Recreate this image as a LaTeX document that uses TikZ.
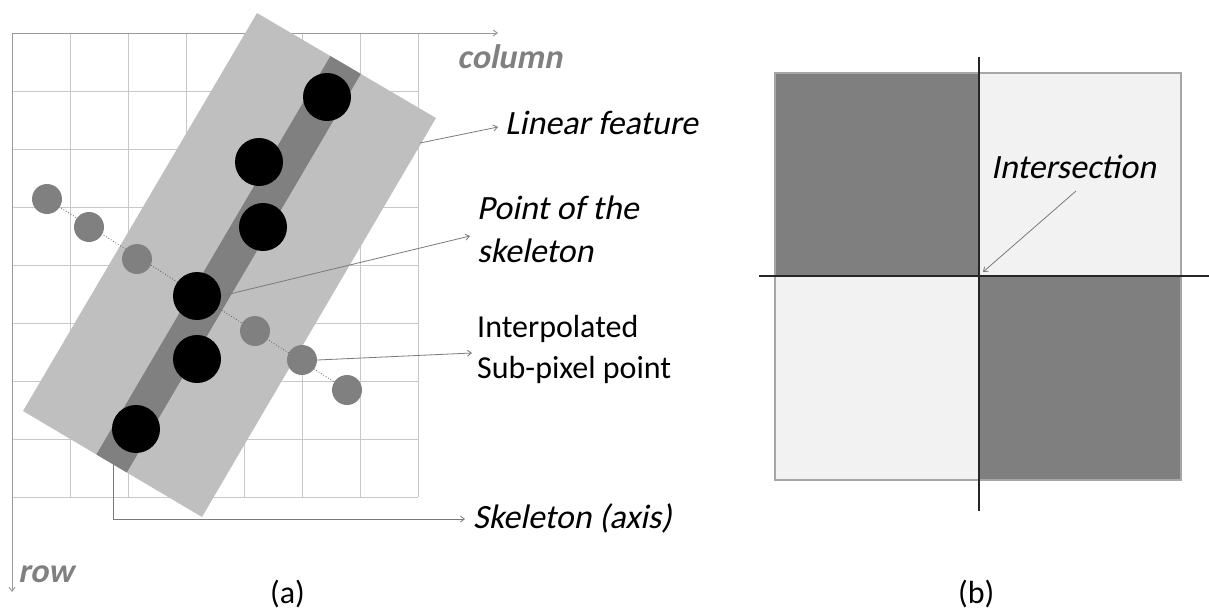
\documentclass[tikz,border=0pt]{standalone}
\usepackage{fontspec}
\setmainfont{Carlito}
\newfontfamily\slantfont{Carlito}[FakeSlant=0.2]
\usetikzlibrary{arrows.meta,calc}
\definecolor{gridc}{HTML}{C8C8C8}
\definecolor{axisc}{HTML}{9A9A9A}
\definecolor{featc}{HTML}{BFBFBF}
\definecolor{skelc}{HTML}{808080}
\definecolor{dotc}{HTML}{808080}
\definecolor{leadc}{HTML}{7A7A7A}
\definecolor{darkq}{HTML}{7F7F7F}
\definecolor{lightq}{HTML}{F2F2F2}
\definecolor{borderq}{HTML}{A6A6A6}
\definecolor{crossc}{HTML}{262626}
\tikzset{
  lbl/.style={inner sep=0pt, font=\fontsize{32}{41}\selectfont, align=left, anchor=base west},
  slbl/.style={lbl, font=\fontsize{34}{43}\selectfont\slantfont},
  axislbl/.style={inner sep=0pt, font=\fontsize{34}{42}\selectfont\slantfont\bfseries, text=skelc, anchor=base west},
  blackdot/.style={circle, fill=black, draw=none, minimum size=48pt, inner sep=0pt},
  greydot/.style={circle, fill=dotc, draw=none, minimum size=30pt, inner sep=0pt},
  leader/.style={draw=leadc, line width=0.8pt, -{Straight Barb[length=4pt,width=6pt]}},
  axisline/.style={draw=axisc, line width=1pt, -{Straight Barb[length=4pt,width=6pt]}},
}
\begin{document}
\begin{tikzpicture}[x=1pt,y=-1pt]
\useasboundingbox (0,0) rectangle (1209,611);
% ---------- panel (a) ----------
\foreach \i in {1,...,7} \draw[gridc, line width=1pt] (12+58*\i,33) -- (12+58*\i,497);
\foreach \j in {1,...,8} \draw[gridc, line width=1pt] (12,33+58*\j) -- (418,33+58*\j);
\coordinate (origin) at (12,33);
\coordinate (colend) at (498,33);
\coordinate (rowend) at (12,592);
\draw[axisline] (origin) -- (colend);
\draw[axisline] (origin) -- (rowend);
\node[axislbl] (column) at (457,68) {column};
\node[axislbl] (row) at (18,582) {row};
\coordinate (rt) at (257,13);
\coordinate (rr) at (436,118);
\coordinate (rb) at (202,517);
\coordinate (rl) at (23,411);
\fill[featc] (rt) -- (rr) -- (rb) -- (rl) -- cycle;
\fill[skelc] ($(rt)!0.41!(rr)$) -- ($(rt)!0.58!(rr)$) -- ($(rl)!0.58!(rb)$) -- ($(rl)!0.41!(rb)$) -- cycle;
\coordinate (d0) at (47,199);
\coordinate (d6) at (347,390);
\draw[dotc!70!black, line width=0.8pt, dotted] (d0) -- (d6);
\node[greydot] (g1) at (47,199) {};
\node[greydot] (g2) at (89,227) {};
\node[greydot] (g3) at (137,259) {};
\node[greydot] (g4) at (255,331) {};
\node[greydot] (g5) at (302,360) {};
\node[greydot] (g6) at (347,390) {};
\node[blackdot] (b1) at (327,97) {};
\node[blackdot] (b2) at (259,162) {};
\node[blackdot] (b3) at (263,227) {};
\node[blackdot] (b4) at (197,296) {};
\node[blackdot] (b5) at (197,359) {};
\node[blackdot] (b6) at (136,429) {};
\node[slbl] (linear) at (505,134) {Linear feature};
\node[slbl] (point) at (477,262) {Point of the\\skeleton};
\node[lbl] (interp) at (477,378) {Interpolated\\Sub-pixel point};
\node[slbl] (skel) at (473,528) {Skeleton (axis)};
\node[lbl] (a) at (270,603) {(a)};
\coordinate (lfs) at (420,143);
\coordinate (lft) at (498,127);
\draw[leader] (lfs) -- (lft);
\coordinate (pst) at (470,236);
\draw[leader] (b4.east) -- (pst);
\coordinate (ipt) at (472,353);
\draw[leader] (g5.east) -- (ipt);
\coordinate (sks) at (113,464);
\coordinate (skt) at (465,519);
\draw[leader] (sks) |- (skt);
% ---------- panel (b) ----------
\coordinate (q0) at (775,73);
\coordinate (qc) at (979,276);
\coordinate (q1) at (1181,480);
\fill[darkq] (q0) rectangle (qc);
\fill[lightq] (qc |- q0) rectangle (q1 |- qc);
\fill[lightq] (q0 |- qc) rectangle (qc |- q1);
\fill[darkq] (qc) rectangle (q1);
\draw[borderq, line width=1.6pt] (q0) rectangle (q1);
\coordinate (vtop) at (979,57);
\coordinate (vbot) at (979,511);
\coordinate (hl) at (759,276);
\coordinate (hr) at (1209,276);
\draw[crossc, line width=1.6pt] (vtop) -- (vbot);
\draw[crossc, line width=1.6pt] (hl) -- (hr);
\node[slbl] (inter) at (991,178) {Intersection};
\coordinate (ins) at (1076,191);
\coordinate (int) at (983,272);
\draw[leader] (ins) -- (int);
\node[lbl] (b) at (958,603) {(b)};
\end{tikzpicture}
\end{document}
